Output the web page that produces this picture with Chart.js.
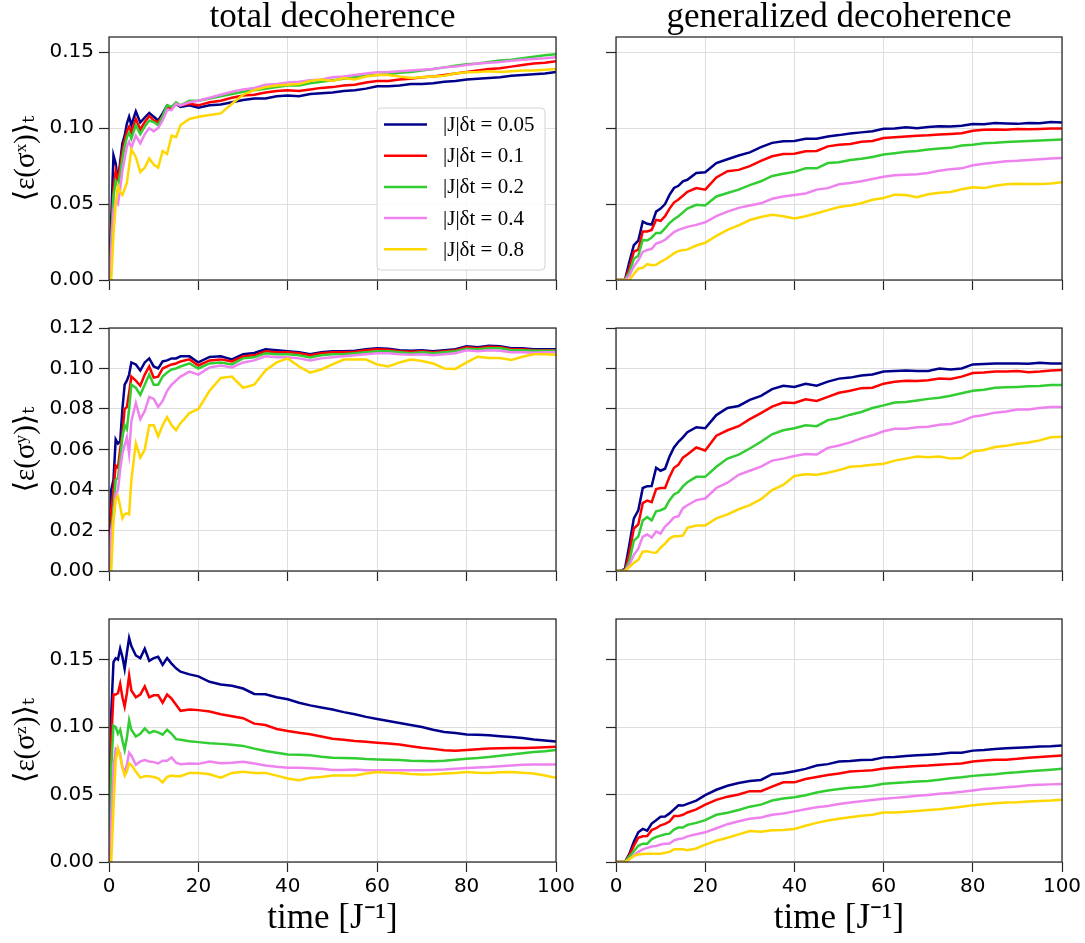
<!DOCTYPE html>
<html>
<head>
<meta charset="utf-8">
<script src="https://cdn.jsdelivr.net/npm/chart.js@4.4.1/dist/chart.umd.min.js"></script>
<style>
html,body{margin:0;padding:0;background:#ffffff;width:1085px;height:943px;overflow:hidden;}
canvas{position:absolute;}
</style>
</head>
<body>
<canvas id="p00"></canvas><canvas id="p01"></canvas>
<canvas id="p10"></canvas><canvas id="p11"></canvas>
<canvas id="p20"></canvas><canvas id="p21"></canvas>
<script>
// ---------- labels / ticks ----------
const columnTitles = ['total decoherence', 'generalized decoherence'];
const rowYLabels = ['⟨ε(σˣ)⟩ₜ', '⟨ε(σʸ)⟩ₜ', '⟨ε(σᶻ)⟩ₜ'];
const xAxisLabel = 'time [J⁻¹]';
const seriesLabels = ['|J|δt = 0.05', '|J|δt = 0.1', '|J|δt = 0.2', '|J|δt = 0.4', '|J|δt = 0.8'];
const seriesColors = ['#00008b', '#ff0000', '#32cd32', '#ee82ee', '#ffd700'];
const xTicks = [0, 20, 40, 60, 80, 100];
const yTicksRow0 = [0, 0.05, 0.10, 0.15];
const yTicksRow1 = [0, 0.02, 0.04, 0.06, 0.08, 0.10, 0.12];
const yTicksRow2 = [0, 0.05, 0.10, 0.15];
const yMaxRows = [0.16, 0.12, 0.18];

// ---------- time grids ----------
const timeLeft = [0,0.5,1,1.5,2,2.5,3,3.5,4,4.5,5,6,7,8,9,10,11,12,13,14,15,16,18,20,
  22.5,25,27.5,30,32.5,35,37.5,40,42.5,45,47.5,50,52.5,55,57.5,60,62.5,65,67.5,70,72.5,75,77.5,80,82.5,85,87.5,90,92.5,95,97.5,100];
const timeRight = [0,1,2,3,4,5,6,7,8,9,10,11,12,13,14,15,16,18,20,
  22.5,25,27.5,30,32.5,35,37.5,40,42.5,45,47.5,50,52.5,55,57.5,60,62.5,65,67.5,70,72.5,75,77.5,80,82.5,85,87.5,90,92.5,95,97.5,100];

// ---------- total decoherence, sigma^x ----------
const totX_005 = [0,0.04,0.082,0.0767,0.0645,0.078,0.09,0.095,0.103,0.1075,0.102,0.111,0.1037,0.107,0.11,0.1075,0.105,0.1097,0.115,0.1134,0.116,0.114,0.115,0.1135,
  0.115,0.1155,0.117,0.1185,0.1195,0.1195,0.121,0.1215,0.121,0.1225,0.123,0.1235,0.1245,0.125,0.126,0.1275,0.1275,0.128,0.129,0.129,0.1295,0.1305,0.131,0.132,0.1325,0.133,0.1335,0.1345,0.135,0.1355,0.136,0.137];
const totX_01 = [0,0.03,0.06,0.072,0.066,0.075,0.085,0.092,0.098,0.101,0.097,0.106,0.099,0.104,0.108,0.105,0.104,0.108,0.114,0.113,0.116,0.115,0.116,0.115,
  0.117,0.118,0.12,0.1215,0.122,0.1235,0.1245,0.125,0.1245,0.1255,0.1265,0.127,0.128,0.1285,0.13,0.131,0.131,0.132,0.1325,0.1335,0.134,0.135,0.136,0.137,0.138,0.139,0.1395,0.1405,0.1415,0.1425,0.143,0.144];
const totX_02 = [0,0.025,0.055,0.065,0.062,0.07,0.08,0.088,0.094,0.097,0.093,0.102,0.096,0.101,0.105,0.104,0.102,0.108,0.115,0.114,0.117,0.115,0.118,0.118,
  0.1195,0.121,0.1225,0.124,0.125,0.126,0.127,0.128,0.128,0.1295,0.1305,0.1315,0.1325,0.1335,0.1345,0.135,0.1355,0.1365,0.137,0.138,0.139,0.14,0.141,0.142,0.1425,0.1435,0.1445,0.145,0.146,0.147,0.148,0.1487];
const totX_04 = [0,0.02,0.045,0.052,0.05,0.06,0.072,0.08,0.088,0.091,0.087,0.095,0.09,0.096,0.1,0.098,0.1,0.105,0.112,0.112,0.116,0.115,0.117,0.118,
  0.12,0.122,0.124,0.1255,0.1265,0.1285,0.129,0.13,0.1305,0.1315,0.132,0.1335,0.134,0.135,0.136,0.1368,0.137,0.1375,0.138,0.1385,0.139,0.14,0.1405,0.1415,0.1425,0.143,0.1435,0.1443,0.145,0.1455,0.146,0.1467];
const totX_08 = [0,0,0.03,0.05,0.062,0.058,0.056,0.06,0.064,0.075,0.086,0.081,0.071,0.074,0.08,0.076,0.074,0.085,0.083,0.095,0.094,0.102,0.106,0.1075,
  0.1086,0.1097,0.116,0.122,0.125,0.127,0.128,0.1285,0.129,0.131,0.132,0.131,0.133,0.132,0.134,0.135,0.135,0.134,0.133,0.1335,0.134,0.1345,0.136,0.1368,0.137,0.1375,0.137,0.1375,0.138,0.138,0.1385,0.139];

// ---------- total decoherence, sigma^y ----------
const totY_005 = [0,0.04,0.045,0.065,0.063,0.064,0.08,0.092,0.094,0.097,0.103,0.102,0.099,0.103,0.105,0.101,0.1,0.1035,0.104,0.105,0.105,0.106,0.106,0.103,
  0.1057,0.106,0.1045,0.107,0.1077,0.1095,0.109,0.1085,0.108,0.107,0.108,0.1085,0.1085,0.1088,0.1095,0.11,0.1098,0.109,0.1088,0.109,0.1085,0.109,0.1095,0.111,0.1105,0.1112,0.111,0.11,0.11,0.1095,0.1095,0.1095];
const totY_01 = [0,0.03,0.04,0.052,0.051,0.06,0.068,0.08,0.081,0.088,0.096,0.094,0.0915,0.097,0.101,0.0955,0.096,0.1,0.101,0.102,0.1025,0.1035,0.1045,0.1015,
  0.104,0.1045,0.1035,0.106,0.1065,0.1085,0.108,0.108,0.1075,0.1065,0.1075,0.108,0.108,0.1083,0.109,0.1095,0.1093,0.1085,0.1083,0.1085,0.108,0.1085,0.109,0.1105,0.11,0.1107,0.1105,0.1095,0.1095,0.109,0.109,0.109];
const totY_02 = [0,0.02,0.03,0.045,0.046,0.055,0.066,0.072,0.07,0.08,0.092,0.0905,0.087,0.092,0.097,0.092,0.092,0.096,0.098,0.0995,0.1,0.101,0.1025,0.1,
  0.1025,0.103,0.102,0.105,0.1055,0.1075,0.107,0.107,0.1065,0.1055,0.1065,0.107,0.107,0.1075,0.108,0.1085,0.1085,0.108,0.1075,0.108,0.1075,0.108,0.1085,0.1098,0.1095,0.11,0.11,0.109,0.109,0.1088,0.1088,0.1088];
const totY_04 = [0,0.02,0.025,0.038,0.04,0.05,0.058,0.062,0.066,0.058,0.074,0.083,0.075,0.079,0.086,0.085,0.081,0.084,0.089,0.092,0.094,0.096,0.0985,0.097,
  0.1005,0.1015,0.1005,0.103,0.104,0.106,0.1055,0.1055,0.105,0.104,0.105,0.1055,0.106,0.1065,0.107,0.1075,0.1075,0.107,0.1068,0.107,0.1065,0.107,0.1075,0.109,0.1085,0.109,0.1088,0.108,0.108,0.1078,0.108,0.108];
const totY_08 = [0,0,0.025,0.035,0.037,0.032,0.026,0.028,0.0285,0.028,0.045,0.063,0.056,0.06,0.072,0.072,0.0665,0.072,0.076,0.072,0.0695,0.073,0.078,0.08,
  0.089,0.0953,0.096,0.0905,0.092,0.099,0.103,0.105,0.101,0.098,0.0995,0.102,0.1044,0.1044,0.1044,0.102,0.101,0.103,0.1044,0.1037,0.1025,0.1,0.0998,0.103,0.1058,0.1052,0.1052,0.1042,0.1058,0.107,0.107,0.1068];

// ---------- total decoherence, sigma^z ----------
const totZ_005 = [0,0.11,0.148,0.151,0.15,0.158,0.152,0.143,0.155,0.166,0.16,0.153,0.151,0.158,0.149,0.151,0.152,0.146,0.151,0.147,0.1435,0.141,0.139,0.1375,
  0.1335,0.1315,0.1305,0.1285,0.1245,0.1243,0.122,0.1205,0.118,0.116,0.1145,0.113,0.111,0.1094,0.1075,0.106,0.1045,0.103,0.1015,0.1,0.098,0.0963,0.0955,0.0945,0.0942,0.0938,0.0932,0.0926,0.0918,0.0908,0.09,0.0893];
const totZ_01 = [0,0.09,0.124,0.124,0.125,0.132,0.122,0.115,0.125,0.138,0.127,0.122,0.124,0.13,0.122,0.1235,0.1235,0.118,0.124,0.121,0.1165,0.112,0.113,0.1125,
  0.1115,0.1095,0.108,0.1065,0.1025,0.1015,0.0985,0.097,0.0958,0.0946,0.093,0.0913,0.0905,0.0896,0.089,0.0884,0.0878,0.087,0.0858,0.0847,0.0838,0.0827,0.0825,0.083,0.0835,0.084,0.0842,0.0844,0.0845,0.0847,0.085,0.0854];
const totZ_02 = [0,0.07,0.101,0.1,0.095,0.098,0.09,0.083,0.092,0.105,0.098,0.093,0.095,0.099,0.0955,0.097,0.096,0.0943,0.098,0.095,0.091,0.0905,0.0894,0.0888,
  0.088,0.0875,0.0868,0.086,0.084,0.0822,0.081,0.0797,0.0795,0.079,0.078,0.0772,0.077,0.0768,0.0763,0.076,0.0758,0.0755,0.075,0.0748,0.0747,0.075,0.0758,0.0765,0.077,0.0777,0.0787,0.0797,0.0805,0.0814,0.082,0.0829];
const totZ_04 = [0,0.03,0.07,0.084,0.083,0.08,0.07,0.067,0.072,0.081,0.079,0.072,0.0745,0.0755,0.0745,0.074,0.073,0.075,0.075,0.0775,0.0735,0.0725,0.073,0.0727,
  0.0745,0.0732,0.0735,0.0742,0.073,0.0715,0.0705,0.0698,0.0698,0.0695,0.069,0.0682,0.0682,0.0685,0.068,0.068,0.068,0.068,0.068,0.068,0.0682,0.0685,0.069,0.0696,0.07,0.0704,0.071,0.0715,0.072,0.0723,0.0722,0.0723];
const totZ_08 = [0,0,0.04,0.075,0.084,0.078,0.07,0.064,0.067,0.073,0.072,0.067,0.0625,0.0635,0.0635,0.063,0.062,0.059,0.063,0.064,0.0635,0.0635,0.066,0.066,
  0.065,0.0625,0.066,0.0668,0.066,0.066,0.064,0.0619,0.0605,0.0624,0.063,0.064,0.064,0.064,0.0655,0.0666,0.0662,0.066,0.0652,0.0648,0.065,0.0655,0.066,0.0666,0.0662,0.066,0.0665,0.0666,0.0662,0.0655,0.064,0.0624];

// ---------- generalized decoherence, sigma^x ----------
const genX_005 = [0,0,0,0.012,0.023,0.026,0.0385,0.037,0.0365,0.045,0.047,0.05,0.056,0.0606,0.062,0.065,0.066,0.0705,0.071,
  0.077,0.0795,0.082,0.084,0.0875,0.0903,0.0914,0.0915,0.093,0.093,0.0945,0.0954,0.0965,0.0972,0.098,0.0996,0.0998,0.1006,0.1,0.1008,0.1012,0.101,0.1015,0.1027,0.1025,0.1033,0.103,0.1028,0.1033,0.1032,0.104,0.1037];
const genX_01 = [0,0,0,0.008,0.0187,0.02,0.032,0.032,0.033,0.0396,0.039,0.042,0.047,0.051,0.053,0.0555,0.058,0.0605,0.0595,
  0.0675,0.0716,0.0725,0.075,0.0785,0.0815,0.083,0.0832,0.0848,0.085,0.088,0.089,0.0895,0.091,0.0915,0.0935,0.094,0.0945,0.095,0.0953,0.0958,0.0962,0.0967,0.0983,0.099,0.0991,0.099,0.0995,0.0992,0.0995,0.0997,0.0998];
const genX_02 = [0,0,0,0.005,0.014,0.016,0.0264,0.026,0.028,0.031,0.031,0.034,0.0375,0.04,0.042,0.0445,0.047,0.0495,0.049,
  0.055,0.0573,0.0595,0.0625,0.065,0.0685,0.07,0.0712,0.0735,0.0735,0.077,0.0775,0.079,0.0798,0.081,0.0826,0.0835,0.0845,0.085,0.086,0.0866,0.087,0.0885,0.089,0.09,0.0903,0.0908,0.0912,0.0915,0.0918,0.0922,0.0925];
const genX_04 = [0,0,0,0.003,0.009,0.013,0.0185,0.0198,0.0205,0.024,0.025,0.0265,0.029,0.0315,0.033,0.034,0.035,0.0363,0.038,
  0.042,0.045,0.0475,0.049,0.0505,0.0535,0.055,0.056,0.057,0.0595,0.0605,0.063,0.0638,0.065,0.0665,0.068,0.069,0.0693,0.0697,0.0705,0.072,0.073,0.0735,0.0755,0.0765,0.0773,0.0782,0.0785,0.079,0.0795,0.08,0.0804];
const genX_08 = [0,0,0,0,0.004,0.0075,0.008,0.0105,0.0098,0.01,0.012,0.0135,0.0155,0.0175,0.019,0.0198,0.02,0.0227,0.0245,
  0.029,0.033,0.036,0.0395,0.0415,0.043,0.042,0.0405,0.042,0.044,0.046,0.048,0.049,0.0505,0.0528,0.054,0.0562,0.056,0.0545,0.0565,0.0575,0.058,0.0597,0.061,0.0605,0.062,0.063,0.0633,0.0632,0.0632,0.0635,0.0643];

// ---------- generalized decoherence, sigma^y ----------
const genY_005 = [0,0,0.001,0.013,0.026,0.03,0.041,0.0419,0.042,0.051,0.0495,0.0505,0.0565,0.061,0.0638,0.066,0.0685,0.071,0.0705,
  0.077,0.0805,0.0815,0.0845,0.0865,0.0898,0.0915,0.0909,0.0925,0.0915,0.0935,0.095,0.0955,0.0965,0.097,0.0985,0.0988,0.099,0.0988,0.0988,0.1,0.0995,0.1,0.102,0.1022,0.1025,0.1025,0.1025,0.1023,0.1028,0.1025,0.1025];
const genY_01 = [0,0,0,0.009,0.021,0.023,0.0335,0.0348,0.034,0.0405,0.041,0.041,0.0465,0.051,0.0525,0.056,0.0575,0.061,0.0595,
  0.0668,0.0695,0.0715,0.075,0.078,0.0812,0.0832,0.083,0.0848,0.084,0.086,0.088,0.089,0.0903,0.0905,0.0925,0.0935,0.094,0.0938,0.0942,0.095,0.0948,0.096,0.0978,0.098,0.0985,0.0985,0.0988,0.0982,0.0985,0.099,0.0992];
const genY_02 = [0,0,0,0.005,0.015,0.017,0.025,0.0266,0.025,0.0295,0.03,0.031,0.035,0.0378,0.039,0.0418,0.0438,0.0465,0.0465,
  0.0515,0.0555,0.0575,0.0605,0.0638,0.0675,0.0695,0.0705,0.072,0.0715,0.0745,0.0755,0.0772,0.0785,0.0805,0.0818,0.0832,0.0835,0.0842,0.085,0.0856,0.0865,0.0878,0.089,0.0895,0.0905,0.0907,0.0909,0.0912,0.0914,0.0918,0.0919];
const genY_04 = [0,0,0,0.003,0.008,0.011,0.017,0.018,0.0165,0.0195,0.0185,0.022,0.024,0.0265,0.027,0.031,0.0325,0.035,0.0358,
  0.041,0.0436,0.0475,0.0495,0.0515,0.0545,0.0555,0.0568,0.0578,0.0575,0.0608,0.062,0.0635,0.0655,0.067,0.069,0.0702,0.0702,0.071,0.0712,0.0722,0.0726,0.074,0.0762,0.077,0.0782,0.0788,0.0798,0.0798,0.0805,0.081,0.081];
const genY_08 = [0,0,0,0.002,0.004,0.0055,0.0095,0.0098,0.0092,0.009,0.0115,0.0135,0.016,0.0172,0.0172,0.0175,0.0213,0.0225,0.0225,
  0.026,0.028,0.0305,0.0325,0.0355,0.04,0.0425,0.0469,0.0478,0.0475,0.0485,0.0498,0.0515,0.0518,0.0525,0.053,0.0545,0.0555,0.0565,0.0562,0.0565,0.0555,0.0558,0.059,0.0598,0.0612,0.0618,0.0628,0.0635,0.0645,0.066,0.0663];

// ---------- generalized decoherence, sigma^z ----------
const genZ_005 = [0,0,0,0.006,0.015,0.022,0.0245,0.0232,0.0285,0.031,0.0335,0.0337,0.036,0.039,0.042,0.0418,0.043,0.0455,0.0495,
  0.0535,0.0565,0.0585,0.06,0.0608,0.065,0.0658,0.0672,0.069,0.0715,0.0725,0.0745,0.0748,0.0756,0.0758,0.0775,0.0778,0.0785,0.079,0.0795,0.08,0.081,0.081,0.0825,0.083,0.0837,0.0842,0.0846,0.085,0.0855,0.0858,0.0863];
const genZ_01 = [0,0,0,0.005,0.012,0.018,0.019,0.0193,0.0236,0.025,0.0272,0.0282,0.03,0.034,0.034,0.035,0.0367,0.039,0.0425,
  0.046,0.0484,0.05,0.0525,0.0525,0.0558,0.059,0.059,0.0615,0.063,0.0645,0.0655,0.067,0.0675,0.068,0.0692,0.07,0.0705,0.0712,0.0715,0.072,0.0725,0.073,0.0744,0.0752,0.0757,0.0758,0.0764,0.0772,0.0777,0.0783,0.0789];
const genZ_02 = [0,0,0,0.004,0.008,0.012,0.0136,0.0136,0.017,0.0185,0.0195,0.0205,0.021,0.024,0.0255,0.0255,0.0275,0.029,0.031,
  0.035,0.0365,0.0385,0.041,0.0425,0.0455,0.047,0.048,0.0495,0.0515,0.053,0.054,0.055,0.0555,0.0565,0.058,0.0585,0.059,0.0597,0.06,0.061,0.062,0.0627,0.0638,0.0645,0.065,0.066,0.0665,0.0672,0.0678,0.0684,0.069];
const genZ_04 = [0,0,0,0.002,0.005,0.0075,0.0094,0.0105,0.0115,0.0119,0.013,0.0135,0.0137,0.016,0.017,0.0175,0.019,0.0205,0.022,
  0.025,0.028,0.0302,0.032,0.033,0.035,0.036,0.0375,0.039,0.0405,0.0415,0.043,0.044,0.045,0.046,0.0468,0.0475,0.0482,0.049,0.0497,0.0505,0.0512,0.052,0.053,0.054,0.0547,0.0553,0.056,0.0568,0.0572,0.0575,0.0578];
const genZ_08 = [0,0,0,0.002,0.0045,0.0055,0.006,0.0062,0.0062,0.0062,0.0062,0.0068,0.0075,0.0094,0.0094,0.0094,0.0088,0.01,0.0128,
  0.0158,0.018,0.0205,0.023,0.0225,0.0236,0.0237,0.0245,0.0268,0.029,0.0307,0.032,0.0332,0.0342,0.035,0.0367,0.0367,0.0372,0.0378,0.0385,0.039,0.04,0.041,0.042,0.0428,0.0435,0.044,0.0443,0.0449,0.0452,0.0455,0.0461];

// ---------- assembly ----------
const panelSeries = [
  [[totX_005, totX_01, totX_02, totX_04, totX_08], [genX_005, genX_01, genX_02, genX_04, genX_08]],
  [[totY_005, totY_01, totY_02, totY_04, totY_08], [genY_005, genY_01, genY_02, genY_04, genY_08]],
  [[totZ_005, totZ_01, totZ_02, totZ_04, totZ_08], [genZ_005, genZ_01, genZ_02, genZ_04, genZ_08]]
];
const panelTimes = [timeLeft, timeRight];
const yTickRows = [yTicksRow0, yTicksRow1, yTicksRow2];

// geometry of each canvas (layout only)
const colGeom = [ {left: 0, width: 586, yW: 109, padR: 30}, {left: 576, width: 509, yW: 40, padR: 23} ];
const rowGeom = [ {top: 0, height: 304, padT: 0, xH: 12, padB: 12},
                  {top: 308, height: 287, padT: 20, xH: 12, padB: 12},
                  {top: 599, height: 343, padT: 20, xH: 80, padB: 0} ];

Chart.defaults.font.family = "'DejaVu Sans', sans-serif";
Chart.defaults.color = '#000';

const framePlugin = {
  id: 'frame',
  afterDatasetsDraw(chart) {
    const {ctx, chartArea: a} = chart;
    ctx.save();
    ctx.strokeStyle = '#262626';
    ctx.lineWidth = 1.25;
    ctx.strokeRect(a.left, a.top, a.right - a.left, a.bottom - a.top);
    ctx.restore();
  }
};

const legendPlugin = {
  id: 'boxLegend',
  afterDraw(chart) {
    const ctx = chart.ctx;
    const bx = 377, by = 108, bw = 168, bh = 162, r = 4;
    ctx.save();
    ctx.beginPath();
    ctx.moveTo(bx + r, by);
    ctx.arcTo(bx + bw, by, bx + bw, by + bh, r);
    ctx.arcTo(bx + bw, by + bh, bx, by + bh, r);
    ctx.arcTo(bx, by + bh, bx, by, r);
    ctx.arcTo(bx, by, bx + bw, by, r);
    ctx.closePath();
    ctx.fillStyle = 'rgba(255,255,255,0.85)';
    ctx.fill();
    ctx.strokeStyle = '#d4d4d4';
    ctx.lineWidth = 1;
    ctx.stroke();
    ctx.font = "21px 'Liberation Serif', serif";
    ctx.textBaseline = 'middle';
    ctx.textAlign = 'left';
    seriesLabels.forEach((lab, i) => {
      const y = 124.5 + i * 31.2;
      ctx.strokeStyle = seriesColors[i];
      ctx.lineWidth = 2.5;
      ctx.beginPath();
      ctx.moveTo(384, y);
      ctx.lineTo(427, y);
      ctx.stroke();
      ctx.fillStyle = '#000';
      ctx.fillText(lab, 443, y + 1);
    });
    ctx.restore();
  }
};

function buildPanel(row, col) {
  const cg = colGeom[col], rg = rowGeom[row];
  const cv = document.getElementById('p' + row + col);
  cv.width = cg.width; cv.height = rg.height;
  cv.style.left = cg.left + 'px'; cv.style.top = rg.top + 'px';
  const time = panelTimes[col];
  const datasets = panelSeries[row][col].map((vals, i) => ({
    label: seriesLabels[i],
    data: time.map((t, k) => ({x: t, y: vals[k]})),
    borderColor: seriesColors[i],
    backgroundColor: seriesColors[i],
    borderWidth: 2.5,
    pointRadius: 0,
    tension: 0,
    fill: false,
    order: 5 - i
  }));
  const yTicks = yTickRows[row];
  const plugins = [framePlugin];
  if (row === 0 && col === 0) plugins.push(legendPlugin);
  new Chart(cv, {
    type: 'line',
    data: {datasets},
    plugins,
    options: {
      responsive: false,
      animation: false,
      devicePixelRatio: 1,
      layout: {padding: {top: rg.padT, bottom: rg.padB, left: 0, right: cg.padR}},
      plugins: {
        legend: {display: false},
        tooltip: {enabled: false},
        title: {
          display: row === 0,
          text: columnTitles[col],
          fullSize: false,
          color: '#000',
          font: {family: "'Liberation Serif', serif", size: 35, weight: 'normal', lineHeight: 1},
          padding: {top: 0, bottom: 2}
        }
      },
      scales: {
        x: {
          type: 'linear', min: 0, max: 100,
          afterBuildTicks: s => { s.ticks = xTicks.map(v => ({value: v})); },
          afterFit: s => { s.height = rg.xH; },
          ticks: {display: row === 2, padding: 3, font: {size: 20}, color: '#000', callback: v => String(v)},
          grid: {color: '#dedede', lineWidth: 1, tickColor: '#262626', tickLength: 10, tickWidth: 1.2},
          border: {display: false},
          title: {
            display: row === 2, text: xAxisLabel, color: '#000',
            font: {family: "'Liberation Serif', serif", size: 35, lineHeight: 1},
            padding: {top: 0, bottom: 6}
          }
        },
        y: {
          type: 'linear', min: 0, max: yMaxRows[row],
          afterBuildTicks: s => { s.ticks = yTicks.map(v => ({value: v})); },
          afterFit: s => { s.width = cg.yW; },
          ticks: {display: col === 0, padding: 5, font: {size: 20}, color: '#000', callback: v => Number(v).toFixed(2)},
          grid: {color: '#dedede', lineWidth: 1, tickColor: '#262626', tickLength: 10, tickWidth: 1.2},
          border: {display: false},
          title: {
            display: col === 0, text: rowYLabels[row], color: '#000',
            font: {family: "'Liberation Serif', 'DejaVu Serif', serif", size: 29, lineHeight: 1.2},
            padding: {top: 9, bottom: 0}
          }
        }
      }
    }
  });
}

for (let r = 0; r < 3; r++) for (let c = 0; c < 2; c++) buildPanel(r, c);
</script>
</body>
</html>
